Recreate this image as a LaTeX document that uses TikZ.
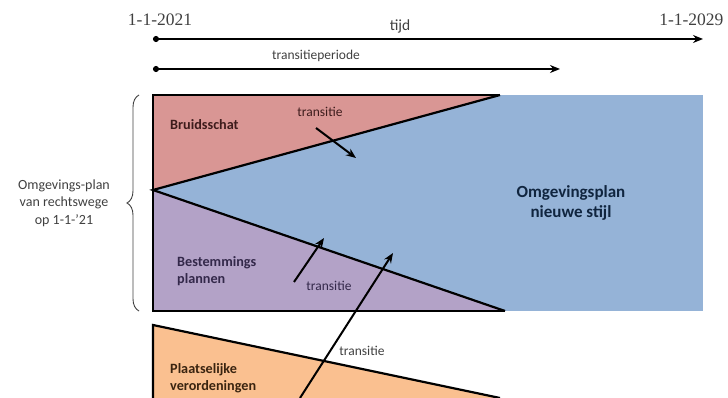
\documentclass[tikz,border=0pt]{standalone}
\usepackage{fontspec}
\setmainfont{Carlito}
\newfontfamily\datefont{Liberation Serif}
\usetikzlibrary{arrows.meta,positioning,decorations.pathreplacing}
\definecolor{bruidred}{HTML}{D99694}
\definecolor{bestpurple}{HTML}{B3A2C7}
\definecolor{omgblue}{HTML}{95B3D7}
\definecolor{plaatsorange}{HTML}{FAC090}
\definecolor{darkred}{HTML}{3E1C1C}
\definecolor{darkpurple}{HTML}{33284A}
\definecolor{darknavy}{HTML}{10253F}
\definecolor{darkbrown}{HTML}{3A2410}
\definecolor{labelgray}{HTML}{404040}

\begin{document}
\begin{tikzpicture}[x=1pt, y=-1pt, >={Stealth[length=10pt,width=8pt]},
    timeline/.style={line width=1.8pt, {Circle[length=6pt]}->},
    edge/.style={line width=2.2pt, line join=miter},
    transarrow/.style={line width=2pt, ->},
    small/.style={font=\fontsize{13.5}{16}\selectfont, text=labelgray, inner sep=1pt},
    area/.style={font=\bfseries\fontsize{14.2}{17}\selectfont, align=left, inner sep=0pt}]
    \useasboundingbox (0,0) rectangle (728,398);
    \clip (0,0) rectangle (728,398);
    % time axes
    \coordinate (t0) at (153,39);
    \coordinate (t1) at (703,39);
    \coordinate (p0) at (153,69);
    \coordinate (p1) at (560,69);
    \draw[timeline] (t0) -- (t1);
    \draw[timeline] (p0) -- (p1);
    \node[font=\datefont\fontsize{17.5}{19}\selectfont, text=labelgray] (datestart) at (160,20) {1-1-2021};
    \node[font=\datefont\fontsize{17.5}{19}\selectfont, text=labelgray, anchor=east] (dateend) at (727,20) {1-1-2029};
    \node[small, font=\fontsize{15.5}{18}\selectfont] (tijd) at (400,26) {tijd};
    \node[small] (periode) at (316,56) {transitieperiode};
    % areas
    \fill[omgblue] (153,95) rectangle (703,311);
    \fill[bruidred] (153,95) -- (500,95) -- (153,190) -- cycle;
    \fill[bestpurple] (153,190) -- (505,311) -- (153,311) -- cycle;
    \fill[plaatsorange] (153,325) -- (500,398) -- (153,398) -- cycle;
    \draw[edge] (500,95) -- (153,95) -- (153,311) -- (505,311);
    \draw[edge] (500,95) -- (153,190) -- (505,311);
    \draw[edge] (153,400) -- (153,325) -- (500,398);
    % brace
    \draw[labelgray, line width=0.9pt, decorate, decoration={brace, amplitude=12pt}] (139,311) -- (139,95);
    \node[small, align=center, font=\fontsize{14}{17.5}\selectfont] (vanrechtswege) at (64,203) {Omgevings-plan\\van rechtswege\\op 1-1-'21};
    % labels
    \node[area, text=darkred, anchor=west] (bruidsschat) at (170,125) {Bruidsschat};
    \node[area, text=darkpurple, anchor=west] (bestemmings) at (177,271) {Bestemmings\\plannen};
    \node[area, text=darkbrown, anchor=west] (plaatselijk) at (170,378) {Plaatselijke\\verordeningen};
    \node[font=\bfseries\fontsize{17}{20}\selectfont, text=darknavy, align=center] (nieuwestijl) at (571,203) {Omgevingsplan\\nieuwe stijl};
    % transitions
    \node[small, text=darkred] (transred) at (320,112) {transitie};
    \node[small, text=darkpurple] (transpurple) at (329,286) {transitie};
    \node[small] (transorange) at (362,351) {transitie};
    \coordinate (ra) at (316,128);
    \coordinate (rb) at (356,158);
    \coordinate (pa) at (294,282);
    \coordinate (pb) at (324,238);
    \coordinate (oa) at (300,398);
    \coordinate (ob) at (393,253);
    \draw[transarrow] (ra) -- (rb);
    \draw[transarrow] (pa) -- (pb);
    \draw[transarrow] (oa) -- (ob);
\end{tikzpicture}
\end{document}
